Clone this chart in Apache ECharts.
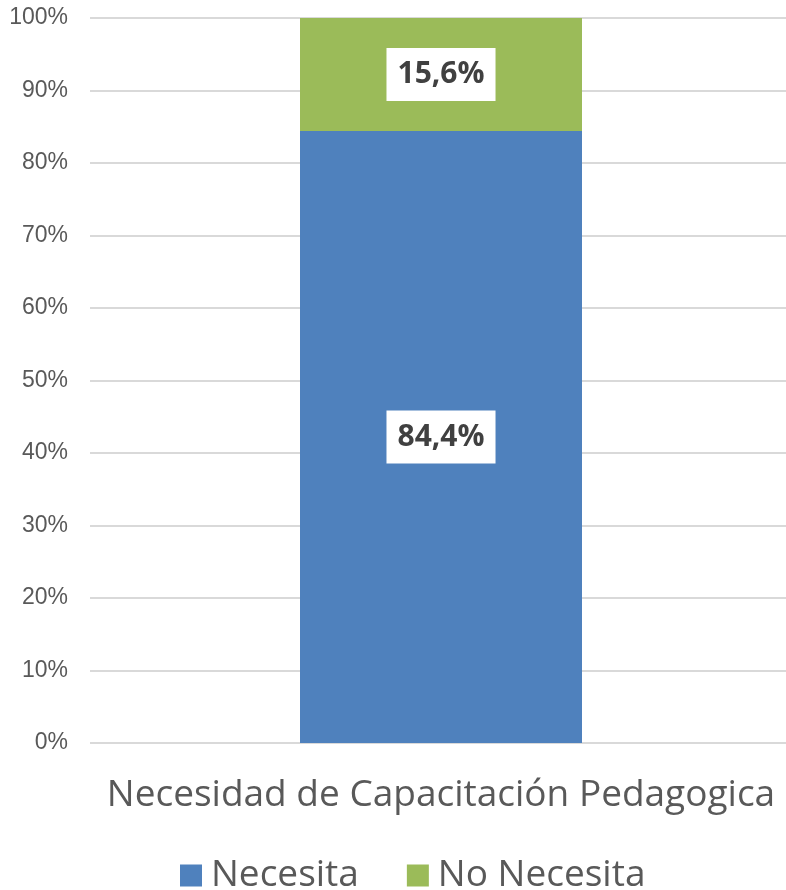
<!DOCTYPE html>
<html>
<head>
<meta charset="utf-8">
<script src="https://cdn.jsdelivr.net/npm/echarts@6/dist/echarts.min.js"></script>
<style>
  html, body { margin: 0; padding: 0; background: #fff; overflow: hidden; }
  #chart { width: 792px; height: 890px; }
</style>
</head>
<body>
<div id="chart"></div>
<script>
const categories = ['Necesidad de Capacitación Pedagogica']
const necesita = [84.4]
const noNecesita = [15.6]

const fmt = (p) => String(p.value).replace('.', ',') + '%'

const labelStyle = {
  show: true,
  position: 'inside',
  formatter: fmt,
  fontFamily: 'Open Sans',
  fontWeight: 'bold',
  fontSize: 30,
  color: '#404040',
  backgroundColor: '#ffffff',
  padding: [12, 11, 11, 11],
}

const chart = echarts.init(document.getElementById('chart'))
chart.setOption({
  animation: false,
  grid: { left: 90, right: 0, top: 18, bottom: 147 },
  legend: {
    top: 852,
    left: 175,
    itemWidth: 22,
    itemHeight: 22,
    itemGap: 48,
    icon: 'rect',
    textStyle: { fontFamily: 'Open Sans', fontSize: 37, color: '#595959', padding: [0, 0, 0, 4] },
    data: ['Necesita', 'No Necesita'],
  },
  xAxis: {
    type: 'category',
    data: categories,
    axisLine: { show: false },
    axisTick: { show: false },
    axisLabel: {
      fontFamily: 'Open Sans',
      fontSize: 37,
      color: '#595959',
      margin: 34,
    },
  },
  yAxis: {
    type: 'value',
    min: 0,
    max: 100,
    interval: 10,
    axisLine: { show: false },
    axisTick: { show: false },
    splitLine: { lineStyle: { color: '#d9d9d9', width: 2 } },
    axisLabel: {
      formatter: '{value}%',
      fontFamily: 'Liberation Sans',
      fontSize: 23,
      color: '#595959',
      margin: 22,
    },
  },
  series: [
    {
      name: 'Necesita',
      type: 'bar',
      stack: 'total',
      barWidth: 282,
      data: necesita,
      itemStyle: { color: '#4f81bd' },
      label: labelStyle,
    },
    {
      name: 'No Necesita',
      type: 'bar',
      stack: 'total',
      barWidth: 282,
      data: noNecesita,
      itemStyle: { color: '#9bbb59' },
      label: labelStyle,
    },
  ],
})
</script>
</body>
</html>
